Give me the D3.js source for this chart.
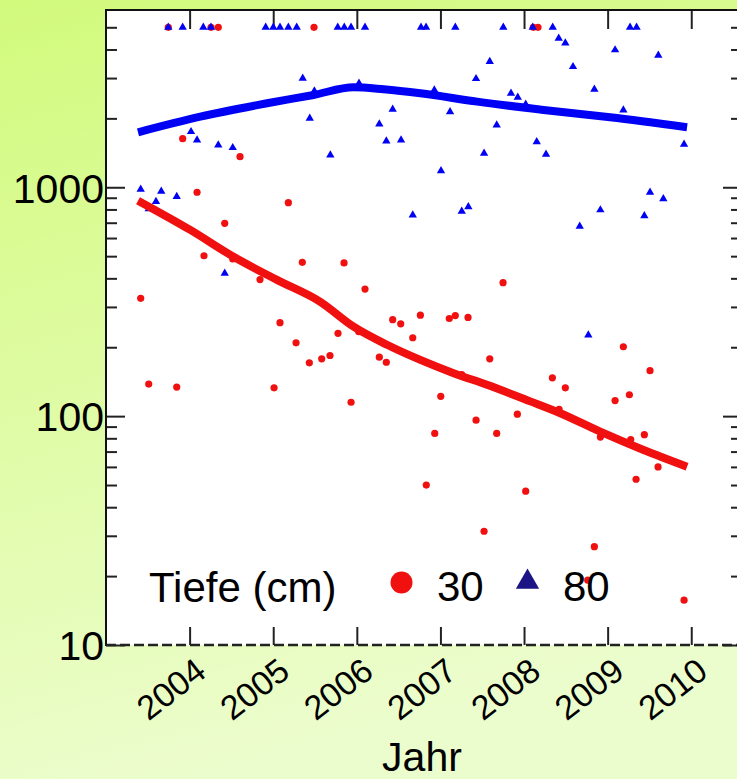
<!DOCTYPE html>
<html>
<head>
<meta charset="utf-8">
<script src="https://cdn.jsdelivr.net/npm/d3@7"></script>
<style>
  html, body { margin: 0; padding: 0; }
  body { width: 737px; height: 779px; overflow: hidden; }
  text { font-family: "Liberation Sans", Arial, sans-serif; fill: #000; }
</style>
</head>
<body>
<script>
// tick labels
var yearTicks = [2004, 2005, 2006, 2007, 2008, 2009, 2010];
var legendTitle = 'Tiefe (cm)';
var depths = ['30', '80'];

// depth 30 cm (red dots): decimal year / value
var redDates = [2003.745, 2004.256, 2004.343, 2005.488, 2008.111, 2008.167,
  2003.917, 2004.603, 2004.089, 2005.181, 2004.420, 2004.172, 2004.516, 2005.348,
  2005.847, 2004.842, 2003.415, 2006.098, 2005.081, 2005.775, 2006.023, 2006.429,
  2006.525, 2006.760, 2006.669, 2005.273, 2006.269, 2006.353, 2005.432, 2005.580,
  2005.679, 2003.511, 2003.846, 2005.010, 2005.931, 2007.749, 2007.106, 2007.178,
  2007.330, 2007.590, 2007.255, 2007.004, 2008.339, 2008.494, 2009.188, 2009.507,
  2009.089, 2009.260, 2008.419, 2007.920, 2007.426, 2006.932, 2007.673, 2008.913,
  2009.276, 2009.439, 2009.603, 2009.340, 2006.831, 2008.020, 2007.522, 2008.841,
  2008.762, 2009.914];
var redValues = [5000, 5000, 5000, 5000, 5000, 5000,
  1630, 1360, 951, 856, 696, 502, 486, 470,
  467, 395, 327, 359, 256, 230, 234, 264,
  253, 276, 220, 209, 181, 172, 171, 178,
  184, 138, 134, 133, 115, 383, 267, 275,
  270, 178, 152, 122, 147, 133, 201, 158,
  117, 124, 107, 102, 96, 84, 84, 81,
  79, 83, 60, 53, 50, 47, 31.4, 26.9,
  19.2, 15.7];

// depth 80 cm (blue triangles)
var blueDates = [2003.745, 2003.917, 2004.164, 2004.256, 2004.910, 2005.001, 2005.081,
  2005.181, 2005.281, 2005.772, 2005.850, 2005.931, 2006.098, 2006.768, 2006.828,
  2007.178, 2007.752, 2008.104, 2008.343, 2009.268, 2009.346,
  2008.415, 2008.494, 2009.089, 2009.606, 2007.590, 2008.586, 2005.353, 2007.426,
  2006.026, 2008.841, 2006.927, 2005.492, 2007.844, 2007.925, 2008.020, 2006.429,
  2009.188, 2007.115, 2005.437, 2006.269, 2007.673, 2004.017, 2004.089, 2006.353,
  2006.529, 2008.152, 2009.914, 2004.343, 2004.516, 2007.522, 2008.263, 2005.683,
  2007.007, 2003.415, 2003.661, 2009.507, 2003.846, 2009.666, 2003.598, 2007.334,
  2003.511, 2008.913, 2007.255, 2006.669, 2009.439, 2008.666, 2004.420, 2008.769];
var blueValues = [5000, 5000, 5000, 5000, 5000, 5000, 5000,
  5000, 5000, 5000, 5000, 5000, 5000, 5000, 5000,
  5000, 5000, 5000, 5000, 5000, 5000,
  4477, 4266, 3980, 3773, 3538, 3364, 2992, 2981,
  2846, 2679, 2661, 2634, 2573, 2472, 2304, 2191,
  2176, 2138, 2001, 1889, 1871, 1749, 1609, 1593,
  1609, 1581, 1540, 1530, 1489, 1407, 1393, 1383,
  1181, 979, 960, 951, 910, 891, 865, 821,
  804, 796, 785, 756, 751, 675, 421, 226];

// smoothed trends
var redTrendDates = [2003.383, 2004.008, 2004.526, 2005.045, 2005.563, 2005.962, 2006.361,
  2006.760, 2007.158, 2007.557, 2008.075, 2008.434, 2008.912, 2009.430, 2009.950];
var redTrendValues = [874, 651, 497, 394, 316, 246, 205, 176, 154, 137, 116, 103, 85.5, 71.1, 60.1];
var blueTrendDates = [2003.383, 2004.128, 2004.926, 2005.483, 2005.962, 2006.320,
  2006.760, 2007.440, 2008.234, 2009.030, 2009.950];
var blueTrendValues = [1739, 2034, 2328, 2531, 2735, 2680, 2575, 2366, 2177, 2022, 1828];

var redColor = '#f01010';
var blueColor = '#0000f5';

var svg, x, y;
var plotLeft = 106, plotRight = 742, plotTop = 10, plotBottom = 645;

drawChart();

function zip(a, b) {
  return a.map(function(d, i) { return [d, b[i]]; });
}

function drawChart() {
  svg = d3.select('body')
    .append('svg')
      .attr('width', 737)
      .attr('height', 779);

  var grad = svg.append('defs')
    .append('linearGradient')
      .attr('id', 'bg')
      .attr('x1', 0).attr('y1', 0)
      .attr('x2', 0.25).attr('y2', 1);
  grad.append('stop').attr('offset', '0%').attr('stop-color', '#d2fa7c');
  grad.append('stop').attr('offset', '100%').attr('stop-color', '#ecfdcd');

  svg.append('rect')
    .attr('width', 737)
    .attr('height', 779)
    .attr('fill', 'url(#bg)');

  svg.append('rect')
    .attr('x', plotLeft)
    .attr('y', plotTop)
    .attr('width', plotRight - plotLeft)
    .attr('height', plotBottom - plotTop)
    .attr('fill', '#fff');

  x = d3.scaleLinear()
    .domain([2003, 2010.607])
    .range([plotLeft, plotRight]);

  y = d3.scaleLog()
    .domain([10, 5950])
    .range([plotBottom, plotTop]);

  drawAxes();

  // points: red first, triangles on top
  svg.append('g')
    .selectAll('circle')
    .data(zip(redDates, redValues))
    .enter()
    .append('circle')
      .attr('cx', function(d) { return x(d[0]); })
      .attr('cy', function(d) { return y(d[1]); })
      .attr('r', 3.6)
      .attr('fill', redColor);

  var tri = d3.symbol().type(d3.symbolTriangle).size(30);
  svg.append('g')
    .selectAll('path')
    .data(zip(blueDates, blueValues))
    .enter()
    .append('path')
      .attr('d', tri)
      .attr('transform', function(d) {
        return 'translate(' + x(d[0]) + ',' + y(d[1]) + ')';
      })
      .attr('fill', blueColor);

  var line = d3.line()
    .curve(d3.curveMonotoneX)
    .x(function(d) { return x(d[0]); })
    .y(function(d) { return y(d[1]); });

  svg.append('path')
    .datum(zip(blueTrendDates, blueTrendValues))
    .attr('d', line)
    .attr('fill', 'none')
    .attr('stroke', blueColor)
    .attr('stroke-width', 8)
    .attr('stroke-linejoin', 'round');

  svg.append('path')
    .datum(zip(redTrendDates, redTrendValues))
    .attr('d', line)
    .attr('fill', 'none')
    .attr('stroke', redColor)
    .attr('stroke-width', 8)
    .attr('stroke-linejoin', 'round');

  drawLegend();
}

function styleAxis(g) {
  g.selectAll('line').attr('stroke', '#222').attr('stroke-width', 2);
  g.select('.domain').remove();
}

function drawAxes() {
  var allTicks = y.ticks();
  var majors = allTicks.filter(function(d) { return Math.abs(Math.log10(d) % 1) < 1e-9; });
  var minors = allTicks.filter(function(d) { return majors.indexOf(d) < 0; });

  // left
  svg.append('g')
    .attr('transform', 'translate(' + plotLeft + ',0)')
    .call(d3.axisLeft(y).tickValues(minors).tickSize(-11).tickFormat(''))
    .call(styleAxis);
  var left = svg.append('g')
    .attr('transform', 'translate(' + plotLeft + ',0)')
    .call(d3.axisLeft(y).tickValues(majors).tickSize(-19).tickPadding(2).tickFormat(d3.format('d')))
    .call(styleAxis);
  left.selectAll('text')
    .attr('font-size', 41)
    .attr('dy', '0.36em');

  // right
  svg.append('g')
    .attr('transform', 'translate(' + plotRight + ',0)')
    .call(d3.axisRight(y).tickValues(minors).tickSize(-11).tickFormat(''))
    .call(styleAxis);
  svg.append('g')
    .attr('transform', 'translate(' + plotRight + ',0)')
    .call(d3.axisRight(y).tickValues(majors).tickSize(-19).tickFormat(''))
    .call(styleAxis);

  // top
  svg.append('g')
    .attr('transform', 'translate(0,' + plotTop + ')')
    .call(d3.axisTop(x).tickValues(yearTicks).tickSize(-19).tickFormat(''))
    .call(styleAxis);

  // bottom
  var bottom = svg.append('g')
    .attr('transform', 'translate(0,' + plotBottom + ')')
    .call(d3.axisBottom(x).tickValues(yearTicks).tickSize(-18).tickFormat(d3.format('d')))
    .call(styleAxis);
  bottom.selectAll('text')
    .attr('font-size', 34)
    .attr('text-anchor', 'end')
    .attr('x', 0)
    .attr('y', 0)
    .attr('dy', null)
    .attr('transform', 'translate(18,30) rotate(-38)');

  // frame
  svg.append('line')
    .attr('x1', plotLeft).attr('x2', plotLeft)
    .attr('y1', plotTop - 1).attr('y2', plotBottom + 1)
    .attr('stroke', '#111').attr('stroke-width', 2);
  svg.append('line')
    .attr('x1', plotLeft).attr('x2', plotRight)
    .attr('y1', plotTop).attr('y2', plotTop)
    .attr('stroke', '#111').attr('stroke-width', 2);
  svg.append('line')
    .attr('x1', plotLeft).attr('x2', plotRight)
    .attr('y1', plotBottom).attr('y2', plotBottom)
    .attr('stroke', '#222').attr('stroke-width', 2.5)
    .attr('stroke-dasharray', '10,4');
  svg.append('line')
    .attr('x1', plotRight).attr('x2', plotRight)
    .attr('y1', plotTop).attr('y2', plotBottom)
    .attr('stroke', '#111').attr('stroke-width', 2);

  svg.append('text')
    .attr('x', (plotLeft + plotRight) / 2 - 2)
    .attr('y', 771)
    .attr('text-anchor', 'middle')
    .attr('font-size', 41)
    .text('Jahr');
}

function drawLegend() {
  var lg = svg.append('g');
  lg.append('text')
    .attr('x', 149)
    .attr('y', 602)
    .attr('font-size', 42)
    .text(legendTitle);
  lg.append('circle')
    .attr('cx', 401.5)
    .attr('cy', 582.5)
    .attr('r', 11)
    .attr('fill', redColor);
  lg.append('text')
    .attr('x', 437)
    .attr('y', 601)
    .attr('font-size', 42)
    .text(depths[0]);
  lg.append('path')
    .attr('d', d3.symbol().type(d3.symbolTriangle).size(235))
    .attr('transform', 'translate(527.5,582)')
    .attr('fill', '#1c1484');
  lg.append('text')
    .attr('x', 563)
    .attr('y', 601)
    .attr('font-size', 42)
    .text(depths[1]);
}
</script>
</body>
</html>
